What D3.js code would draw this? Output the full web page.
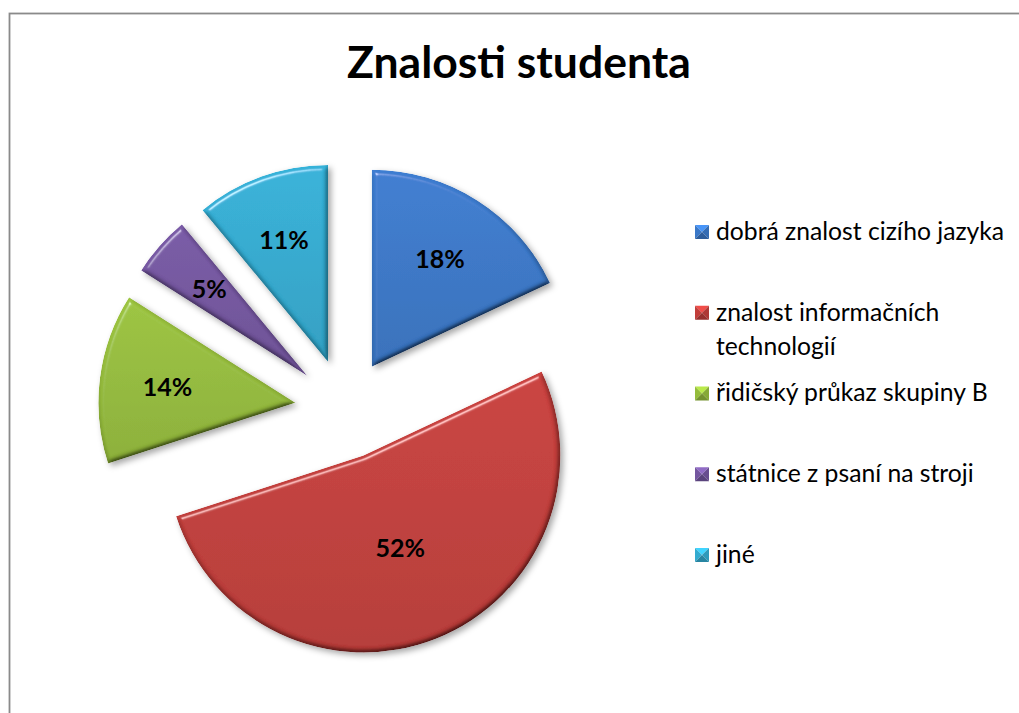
<!DOCTYPE html>
<html>
<head>
<meta charset="utf-8">
<script src="https://cdn.jsdelivr.net/npm/d3@7"></script>
<style>
  body { margin: 0; background: #fff; }
  svg { display: block; }
</style>
</head>
<body>
<svg width="1019" height="713"></svg>
<script>
// data of the chart
var categories = ["dobrá znalost cizího jazyka", "znalost informačních technologií", "řidičský průkaz skupiny B", "státnice z psaní na stroji", "jiné"];
var values = [18, 52, 14, 5, 11];
var chartTitle = "Znalosti studenta";

var svg = d3.select("svg"),
  width = +svg.attr("width"),
  height = +svg.attr("height"),
  cx = 345, cy = 409, // centre of the pie before the slices are pulled out
  radius = 197,
  explode = 50;

var color = d3.scaleOrdinal()
  .domain(categories)
  .range(["#3a78c8", "#c23e3b", "#95bc3c", "#74569f", "#33abd0"]);

// frame of the chart area (it runs out of the picture on the right and bottom)
svg.append("rect")
  .attr("x", 9.5).attr("y", 13.5)
  .attr("width", width + 20).attr("height", height + 20)
  .attr("fill", "none")
  .attr("stroke", "#8a8a8a")
  .attr("stroke-width", 1.8);

svg.append("text")
  .attr("x", 519).attr("y", 78)
  .attr("text-anchor", "middle")
  .style("font-family", "Lato, 'Open Sans', sans-serif")
  .style("font-weight", "bold")
  .style("font-size", "44.5px")
  .attr("fill", "#000")
  .text(chartTitle);

var defs = svg.append("defs");

// bevel look: light from the top left on a blurred alpha, plus a soft shadow
var f = defs.append("filter").attr("id", "bevel")
  .attr("x", "-15%").attr("y", "-15%").attr("width", "135%").attr("height", "135%");
f.append("feGaussianBlur").attr("in", "SourceAlpha").attr("stdDeviation", 2.5).attr("result", "blur");
f.append("feDiffuseLighting").attr("in", "blur").attr("surfaceScale", 4)
  .attr("diffuseConstant", 1.155).attr("lighting-color", "#fff").attr("result", "diff")
  .append("feDistantLight").attr("azimuth", 240).attr("elevation", 60);
f.append("feComposite").attr("in", "SourceGraphic").attr("in2", "diff")
  .attr("operator", "arithmetic").attr("k1", 1).attr("result", "lit");
f.append("feSpecularLighting").attr("in", "blur").attr("surfaceScale", 4)
  .attr("specularConstant", 0.5).attr("specularExponent", 55)
  .attr("lighting-color", "#fff").attr("result", "spec")
  .append("feDistantLight").attr("azimuth", 240).attr("elevation", 45);
f.append("feComposite").attr("in", "spec").attr("in2", "SourceAlpha").attr("operator", "in").attr("result", "specIn");
f.append("feComposite").attr("in", "lit").attr("in2", "specIn")
  .attr("operator", "arithmetic").attr("k2", 1).attr("k3", 1).attr("result", "bev");
f.append("feComposite").attr("in", "bev").attr("in2", "SourceAlpha").attr("operator", "in").attr("result", "bev2");
f.append("feDropShadow").attr("in", "bev2").attr("dx", 3).attr("dy", 3)
  .attr("stdDeviation", 3).attr("flood-color", "#000").attr("flood-opacity", 0.35);

// one vertical gradient for every slice
categories.forEach(function(c, i) {
  var g = defs.append("linearGradient").attr("id", "grad" + i)
    .attr("x1", 0).attr("y1", 0).attr("x2", 0).attr("y2", 1);
  g.append("stop").attr("offset", "0%").attr("stop-color", d3.color(color(c)).brighter(0.12));
  g.append("stop").attr("offset", "100%").attr("stop-color", d3.color(color(c)).darker(0.2));
});

var pie = d3.pie().sort(null).value(function(d) { return d; });
var arc = d3.arc().innerRadius(0).outerRadius(radius);
var arcs = pie(values);
var total = d3.sum(values);

var slices = svg.selectAll(".slice")
  .data(arcs)
  .enter().append("g")
  .attr("class", "slice")
  .attr("transform", function(d) {
    var mid = (d.startAngle + d.endAngle) / 2;
    return "translate(" + (cx + explode * Math.sin(mid)) + "," + (cy - explode * Math.cos(mid)) + ")";
  });

slices.append("path")
  .attr("d", arc)
  .attr("fill", function(d, i) { return "url(#grad" + i + ")"; })
  .attr("filter", "url(#bevel)");

// labels sit near the centroid of each slice area
slices.append("text")
  .attr("transform", function(d) {
    var mid = (d.startAngle + d.endAngle) / 2,
      th = d.endAngle - d.startAngle,
      cd = 4 * radius * Math.sin(th / 2) / (3 * th),
      lr = 50 + 0.62 * cd;
    return "translate(" + (lr * Math.sin(mid)) + "," + (-lr * Math.cos(mid)) + ")";
  })
  .attr("dy", "0.36em")
  .attr("text-anchor", "middle")
  .style("font-family", "Lato, 'Open Sans', sans-serif")
  .style("font-weight", "bold")
  .style("font-size", "25px")
  .attr("fill", "#000")
  .text(function(d) { return Math.round(d.value / total * 100) + "%"; });

// legend
var legendY = d3.scalePoint().domain(categories).range([232, 555]);
var lx = 695, box = 14, maxW = 295;

var items = svg.selectAll(".legend")
  .data(categories)
  .enter().append("g")
  .attr("class", "legend")
  .attr("transform", function(d) { return "translate(" + lx + "," + legendY(d) + ")"; });

// small bevelled squares made of four triangles
var tri = [
  { pts: [[0, 0], [box, 0], [box / 2, box / 2]], k: 0.6 },
  { pts: [[0, 0], [box / 2, box / 2], [0, box]], k: 0 },
  { pts: [[box, 0], [box, box], [box / 2, box / 2]], k: -0.3 },
  { pts: [[0, box], [box / 2, box / 2], [box, box]], k: -0.7 }
];
items.each(function(c) {
  var g = d3.select(this);
  tri.forEach(function(t) {
    var col = t.k >= 0 ? d3.color(color(c)).brighter(t.k) : d3.color(color(c)).darker(-t.k);
    g.append("path")
      .attr("d", "M" + t.pts.map(function(p) { return [p[0], p[1] - box / 2]; }).join("L") + "Z")
      .attr("fill", col);
  });
});

items.append("text")
  .attr("x", 21)
  .attr("y", 0)
  .style("font-family", "Lato, 'Open Sans', sans-serif")
  .style("font-size", "24.7px")
  .attr("fill", "#000")
  .each(function(c) {
    var t = d3.select(this),
      words = c.split(" "),
      line = [],
      tspan = t.append("tspan").attr("x", 21).attr("dy", "0.32em");
    words.forEach(function(w) {
      line.push(w);
      tspan.text(line.join(" "));
      if (tspan.node().getComputedTextLength() > maxW && line.length > 1) {
        line.pop();
        tspan.text(line.join(" "));
        line = [w];
        tspan = t.append("tspan").attr("x", 21).attr("dy", 34).text(w);
      }
    });
  });
</script>
</body>
</html>
